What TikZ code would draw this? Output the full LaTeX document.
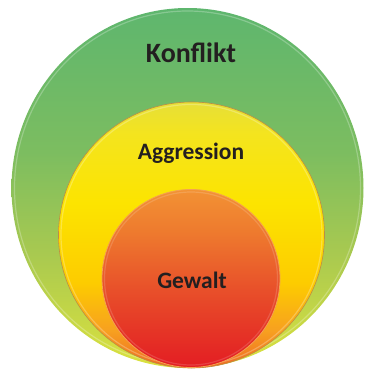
\documentclass[tikz,border=0pt]{standalone}
\usepackage{fontspec}
\setmainfont{Carlito}
\definecolor{txtgray}{HTML}{231F20}
\definecolor{kTop}{HTML}{5EB66E}
\definecolor{kMid}{HTML}{7CBD60}
\definecolor{kLow}{HTML}{A8C950}
\definecolor{kBot}{HTML}{DCE23E}
\definecolor{aTop}{HTML}{E6DF38}
\definecolor{aUp}{HTML}{F4E41E}
\definecolor{aMid}{HTML}{FCE400}
\definecolor{aLow}{HTML}{FDCC00}
\definecolor{aOr}{HTML}{F7A020}
\definecolor{aBot}{HTML}{EE6A22}
\definecolor{gTop}{HTML}{F29234}
\definecolor{gUp}{HTML}{EE7A2E}
\definecolor{gMid}{HTML}{E8502A}
\definecolor{gBot}{HTML}{E31D23}
\pgfdeclareverticalshading{konfliktshade}{100bp}{color(0bp)=(kBot); color(25bp)=(kBot); color(41bp)=(kLow); color(55bp)=(kMid); color(75bp)=(kTop); color(100bp)=(kTop)}
\pgfdeclareverticalshading{aggrshade}{100bp}{color(0bp)=(aBot); color(25bp)=(aBot); color(32bp)=(aOr); color(41bp)=(aLow); color(56bp)=(aMid); color(69bp)=(aUp); color(75bp)=(aTop); color(100bp)=(aTop)}
\pgfdeclareverticalshading{gewaltshade}{100bp}{color(0bp)=(gBot); color(25bp)=(gBot); color(47bp)=(gMid); color(63bp)=(gUp); color(75bp)=(gTop); color(100bp)=(gTop)}
\begin{document}
\begin{tikzpicture}[x=1pt,y=-1pt,
	lbl/.style={text=txtgray,font=\bfseries\fontsize{23.5}{28}\selectfont,inner sep=0pt},
	rim/.style={white,opacity=.25,line width=1.2pt}]
	\useasboundingbox (0,0) rectangle (367,370);
	% outer ring
	\shade[shading=konfliktshade] (187.5,188) ellipse (176 and 180);
	\draw[rim] (187.5,188) ellipse (173 and 177);
	% middle ring
	\shade[shading=aggrshade,draw=aOr!70!black!80,line width=.6pt] (191.5,235) circle (133);
	\draw[rim] (191.5,235) circle (130.5);
	% inner ring
	\shade[shading=gewaltshade,draw=gTop!85!white,line width=.8pt] (191,278.5) circle (89);
	\draw[rim,opacity=.15] (191,278.5) circle (86.5);
	\node[lbl,font=\bfseries\fontsize{28}{32}\selectfont] (konflikt) at (191,53) {Konflikt};
	\node[lbl] (aggression) at (191,153) {Aggression};
	\node[lbl] (gewalt) at (192,280) {Gewalt};
\end{tikzpicture}
\end{document}
